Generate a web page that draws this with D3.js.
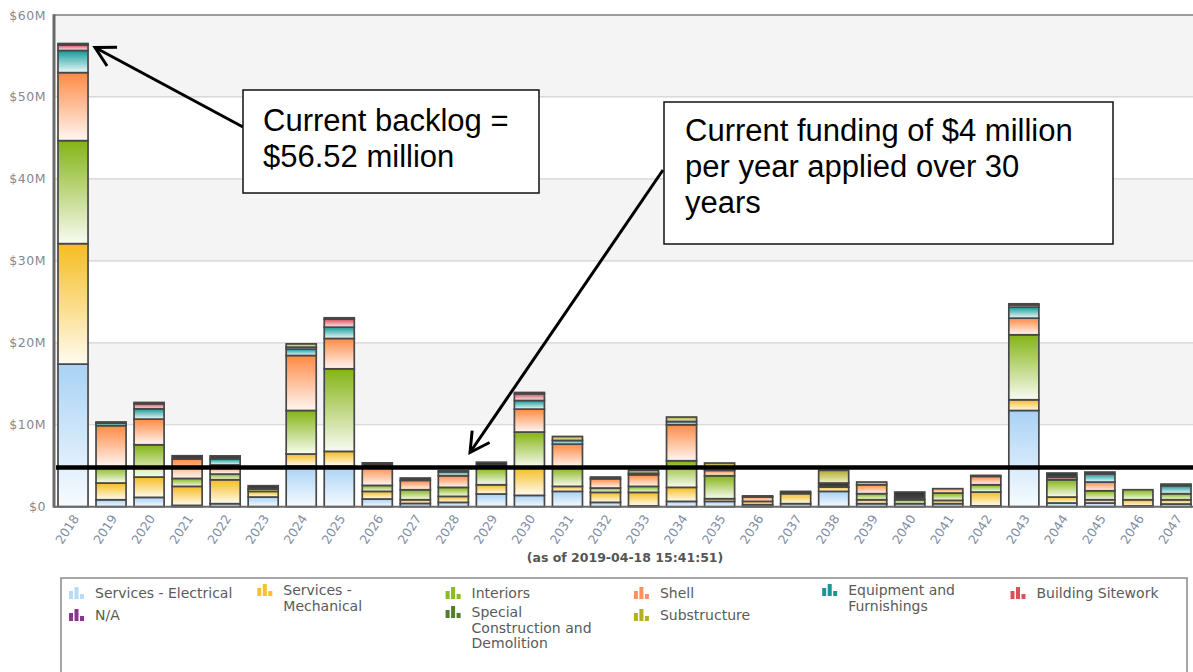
<!DOCTYPE html>
<html>
<head>
<meta charset="utf-8">
<script src="https://cdn.jsdelivr.net/npm/d3@7"></script>
<style>
  body { margin: 0; background: #fff; }
  svg { display: block; }
</style>
</head>
<body>
<script>
// values in $ millions, bottom to top of each bar
var years = ['2018','2019','2020','2021','2022','2023','2024','2025','2026','2027','2028','2029','2030','2031','2032',
  '2033','2034','2035','2036','2037','2038','2039','2040','2041','2042','2043','2044','2045','2046','2047'];

var electrical   = [17.4, 0.85, 1.14, 0.16, 0.37, 1.18, 4.95, 4.95, 0.94, 0.4, 0.53, 1.55, 1.38, 1.87, 0.53, 0.1, 0.65, 0.65, 0.25, 0.37, 1.87, 0.37, 0.37, 0.37, 0.1, 11.74, 0.45, 0.45, 0.1, 0.33];
var mechanical   = [14.7, 2.04, 2.48, 2.32, 2.92, 0.69, 1.48, 1.8, 0.93, 0.45, 0.73, 1.13, 3.42, 0.61, 1.22, 1.65, 1.71, 0.33, 0.4, 1.22, 0.53, 0.48, 0, 0.4, 1.69, 1.31, 0.73, 0.4, 0.75, 0.52];
var interiors    = [12.57, 2.0, 3.94, 0.97, 0.69, 0.29, 5.31, 10.08, 0.73, 1.22, 1.1, 2.1, 4.31, 2.32, 0.53, 0.73, 3.25, 2.8, 0, 0, 0, 0.74, 0.48, 0.9, 0.89, 7.93, 2.11, 1.1, 1.22, 0.74];
var shell        = [8.3, 5.0, 3.13, 2.37, 1.12, 0, 6.71, 3.7, 2.3, 1.14, 1.42, 0, 2.8, 2.84, 1.13, 1.42, 4.39, 0.65, 0.55, 0, 0, 1.09, 0, 0.53, 1.02, 2.03, 0.29, 1.06, 0, 0];
var equipment    = [2.7, 0.3, 1.26, 0, 0.73, 0, 0.78, 1.38, 0, 0, 0.49, 0, 1.05, 0.45, 0, 0, 0.4, 0, 0, 0, 0, 0, 0, 0, 0, 1.34, 0, 0.98, 0, 0.97];
var sitework     = [0.68, 0, 0.61, 0, 0, 0, 0.24, 0.98, 0, 0, 0, 0, 0.82, 0, 0, 0, 0, 0, 0, 0, 0, 0, 0, 0, 0, 0.28, 0, 0, 0, 0];
var notAssigned  = [0, 0, 0, 0, 0, 0, 0, 0, 0, 0, 0, 0, 0, 0, 0, 0, 0, 0, 0, 0, 0, 0, 0, 0, 0, 0, 0, 0, 0, 0];
var special      = [0.17, 0.15, 0.16, 0.4, 0.37, 0.4, 0, 0.16, 0.45, 0.29, 0.12, 0.65, 0.16, 0, 0.21, 0.18, 0, 0, 0.12, 0.28, 0.49, 0, 0.94, 0, 0.12, 0.13, 0.53, 0.24, 0, 0.2];
var substructure = [0, 0, 0, 0, 0, 0, 0.4, 0, 0, 0, 0, 0, 0, 0.48, 0, 0.35, 0.54, 0.9, 0, 0, 1.54, 0.33, 0, 0, 0, 0, 0, 0, 0, 0];

var seriesKeys = ['electrical', 'mechanical', 'interiors', 'shell', 'equipment', 'sitework', 'na', 'special', 'substructure'];
var seriesValues = [electrical, mechanical, interiors, shell, equipment, sitework, notAssigned, special, substructure];
var legendLabels = [
  ['Services - Electrical'], ['Services -', 'Mechanical'], ['Interiors'], ['Shell'],
  ['Equipment and', 'Furnishings'], ['Building Sitework'], ['N/A'],
  ['Special', 'Construction and', 'Demolition'], ['Substructure']
];

var yTicks = [0, 10, 20, 30, 40, 50, 60];
var fundingLevel = 4.78; // drawn line, a bit above $4M in the original
var asOfLabel = '(as of 2019-04-18 15:41:51)';
var note1 = ['Current backlog =', '$56.52 million'];
var note2 = ['Current funding of $4 million', 'per year applied over 30', 'years'];

// gradient top / bottom colours, and legend icon colours
var topColor = ['#a9d2f5', '#f5bd1f', '#84b414', '#ff8a45', '#129a9a', '#d6505c', '#8a3590', '#2e2e2e', '#b0ac2a'];
var bottomColor = ['#f7fbff', '#fffbf0', '#f9fbf2', '#fff6f2', '#eef9f9', '#fde9eb', '#f3e6f3', '#4a4a4a', '#f1f0c8'];
var iconColor = ['#b8dcf5', '#f8c030', '#8abb22', '#ff9060', '#1a9595', '#d8505a', '#8a3590', '#4f7d32', '#b5b020'];

var scr = { w: 1193, h: 672 };
var plot = { left: 54, right: 1195, top: 15, bottom: 506.7 };

var svg = d3.select('body').append('svg')
  .attr('width', scr.w)
  .attr('height', scr.h);

var defs = svg.append('defs');
seriesKeys.forEach(function(k, i) {
  var g = defs.append('linearGradient')
    .attr('id', 'grad-' + k)
    .attr('x1', 0).attr('y1', 0).attr('x2', 0).attr('y2', 1);
  g.append('stop').attr('offset', '0%').attr('stop-color', topColor[i]);
  g.append('stop').attr('offset', '100%').attr('stop-color', bottomColor[i]);
});

var table = years.map(function(y, i) {
  var row = { year: y };
  seriesKeys.forEach(function(k, j) { row[k] = seriesValues[j][i]; });
  return row;
});

var xScale = d3.scaleBand()
  .domain(years)
  .range([plot.left, plot.right])
  .paddingInner(0.21)
  .paddingOuter(0.105);

var yScale = d3.scaleLinear()
  .domain([0, 60])
  .range([plot.bottom, plot.top]);

// alternating background bands
var bands = svg.append('g').classed('bands', true);
for (var t = 0; t < yTicks.length - 1; t++) {
  if (t % 2 == 1) {
    bands.append('rect')
      .attr('x', plot.left)
      .attr('y', yScale(yTicks[t + 1]))
      .attr('width', scr.w - plot.left)
      .attr('height', yScale(yTicks[t]) - yScale(yTicks[t + 1]))
      .attr('fill', '#f4f4f4');
  }
}
svg.append('g').selectAll('line')
  .data(yTicks.slice(1, -1))
  .enter()
  .append('line')
  .attr('x1', plot.left).attr('x2', scr.w)
  .attr('y1', function(d) { return yScale(d); })
  .attr('y2', function(d) { return yScale(d); })
  .attr('stroke', '#d2d2d2')
  .attr('stroke-width', 1.2);

// stacked bars
var stacked = d3.stack().keys(seriesKeys)(table);
var layers = svg.append('g').classed('bars', true)
  .selectAll('g')
  .data(stacked)
  .enter()
  .append('g')
  .attr('fill', function(d) { return 'url(#grad-' + d.key + ')'; });

layers.selectAll('rect')
  .data(function(d) { return d.filter(function(s) { return s[1] - s[0] > 0; }); })
  .enter()
  .append('rect')
  .attr('x', function(d) { return xScale(d.data.year); })
  .attr('y', function(d) { return yScale(d[1]); })
  .attr('width', xScale.bandwidth())
  .attr('height', function(d) { return yScale(d[0]) - yScale(d[1]); })
  .attr('stroke', '#474747')
  .attr('stroke-width', 1.7);

// frame
svg.append('line')
  .attr('x1', plot.left).attr('x2', scr.w)
  .attr('y1', plot.top).attr('y2', plot.top)
  .attr('stroke', '#7a7a7a').attr('stroke-width', 1.5);
svg.append('line')
  .attr('x1', plot.left).attr('x2', scr.w)
  .attr('y1', plot.bottom).attr('y2', plot.bottom)
  .attr('stroke', '#6a6a6a').attr('stroke-width', 2);
svg.append('line')
  .attr('x1', plot.left).attr('x2', plot.left)
  .attr('y1', plot.top - 0.7).attr('y2', plot.bottom + 1)
  .attr('stroke', '#6a6a6a').attr('stroke-width', 3);

// axes
var yAxis = d3.axisLeft(yScale)
  .tickValues(yTicks)
  .tickSize(0)
  .tickPadding(8)
  .tickFormat(function(d) { return d == 0 ? '$0' : '$' + d + 'M'; });
var yG = svg.append('g')
  .attr('transform', 'translate(' + plot.left + ',0)')
  .call(yAxis);
yG.select('.domain').remove();
yG.selectAll('text')
  .attr('font-family', 'DejaVu Sans, Verdana, sans-serif')
  .attr('font-size', 12.5)
  .attr('letter-spacing', 0.5)
  .attr('fill', '#858892');

var xAxis = d3.axisBottom(xScale).tickSize(0);
var xG = svg.append('g')
  .attr('transform', 'translate(0,' + plot.bottom + ')')
  .call(xAxis);
xG.select('.domain').remove();
xG.selectAll('text')
  .attr('font-family', 'DejaVu Sans, Verdana, sans-serif')
  .attr('font-size', 12.5)
  .attr('fill', '#7f8ea4')
  .attr('text-anchor', 'end')
  .attr('dy', 0)
  .attr('transform', 'translate(4,10) rotate(-57)');

svg.append('text')
  .attr('x', 625)
  .attr('y', 562)
  .attr('text-anchor', 'middle')
  .attr('font-family', 'DejaVu Sans, Verdana, sans-serif')
  .attr('font-weight', 'bold')
  .attr('font-size', 12.5)
  .attr('fill', '#555')
  .text(asOfLabel);

// funding line
svg.append('line')
  .attr('x1', plot.left + 2).attr('x2', scr.w)
  .attr('y1', yScale(fundingLevel)).attr('y2', yScale(fundingLevel))
  .attr('stroke', '#000')
  .attr('stroke-width', 4.5);

// annotations
var drawArrow = function(x1, y1, x2, y2) {
  var ang = Math.atan2(y1 - y2, x1 - x2);
  var len = 22, spread = 0.5;
  svg.append('line')
    .attr('x1', x1).attr('y1', y1).attr('x2', x2).attr('y2', y2)
    .attr('stroke', '#000').attr('stroke-width', 3);
  svg.append('path')
    .attr('d', 'M' + (x2 + len * Math.cos(ang + spread)) + ',' + (y2 + len * Math.sin(ang + spread)) +
      'L' + x2 + ',' + y2 +
      'L' + (x2 + len * Math.cos(ang - spread)) + ',' + (y2 + len * Math.sin(ang - spread)))
    .attr('fill', 'none')
    .attr('stroke', '#000')
    .attr('stroke-width', 3);
};

var drawNote = function(box, lines, tx, ty) {
  svg.append('rect')
    .attr('x', box[0]).attr('y', box[1])
    .attr('width', box[2]).attr('height', box[3])
    .attr('fill', '#fff')
    .attr('stroke', '#111')
    .attr('stroke-width', 1.5);
  svg.append('g').selectAll('text')
    .data(lines)
    .enter()
    .append('text')
    .attr('x', tx)
    .attr('y', function(d, i) { return ty + i * 36; })
    .attr('font-family', 'Liberation Sans, Arial, sans-serif')
    .attr('font-size', 31)
    .attr('fill', '#000')
    .text(function(d) { return d; });
};

var tip1x = xScale('2018') + xScale.bandwidth() + 7;
var tip1y = yScale(d3.sum(seriesValues, function(s) { return s[0]; })) + 4;
drawArrow(243, 127, tip1x, tip1y);
drawNote([243, 90, 296, 103], note1, 263, 131);

drawArrow(663, 170, 470, yScale(fundingLevel) - 15);
drawNote([664, 102, 449, 142], note2, 685, 141);

// legend
var legend = svg.append('g').classed('legend', true);
legend.append('rect')
  .attr('x', 61).attr('y', 578)
  .attr('width', 1126).attr('height', 120)
  .attr('fill', '#fff')
  .attr('stroke', '#8a8a8a')
  .attr('stroke-width', 1.5);

var legendCol = [0, 1, 2, 3, 4, 5, 0, 2, 3];
var legendRow = [0, 0, 0, 0, 0, 0, 1, 1, 1];
var colX = function(c) { return 69 + c * 188.3; };
var rowY = [598, 620];

seriesKeys.forEach(function(k, i) {
  var lines = legendLabels[i];
  var bx = colX(legendCol[i]);
  var by = rowY[legendRow[i]] - (lines.length > 1 ? 3 : 0);
  var item = legend.append('g');
  var iconBars = [8, 12, 5];
  item.selectAll('rect')
    .data(iconBars)
    .enter()
    .append('rect')
    .attr('x', function(d, j) { return bx + j * 5.5; })
    .attr('y', function(d) { return by + 1 - d; })
    .attr('width', 4)
    .attr('height', function(d) { return d; })
    .attr('fill', iconColor[i]);
  item.selectAll('text')
    .data(lines)
    .enter()
    .append('text')
    .attr('x', bx + 26)
    .attr('y', function(d, j) { return by + j * 15.5; })
    .attr('font-family', 'DejaVu Sans, Verdana, sans-serif')
    .attr('font-size', 14)
    .attr('fill', '#5a5a5a')
    .text(function(d) { return d; });
});
</script>
</body>
</html>
